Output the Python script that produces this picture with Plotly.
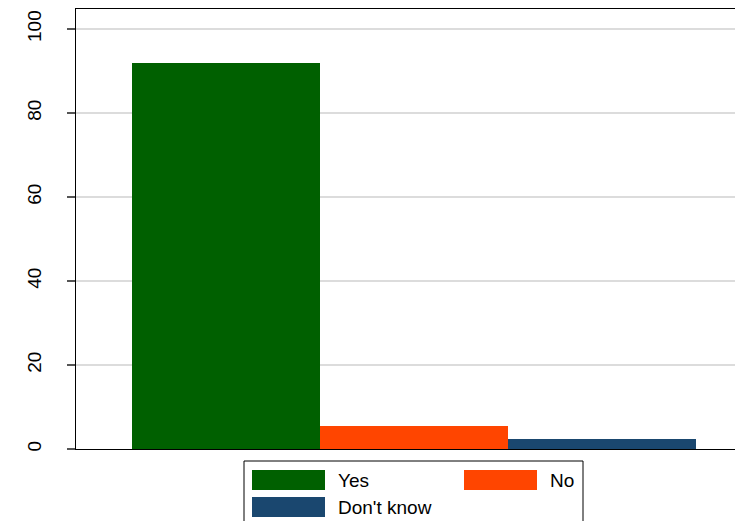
import plotly.graph_objects as go

# ---- data ----
categories = ["Yes", "No", "Don't know"]
values = [92.0, 5.5, 2.5]
colors = ["#006000", "#ff4500", "#1a476f"]
y_ticks = [0, 20, 40, 60, 80, 100]

# ---- layout geometry (page has an 8px body margin) ----
OFF = 8
W, H = 735, 513
ML, MR, MT, MB = 68, 0, 1, 72
PW, PH = W - ML - MR, H - MT - MB
FONT = "Liberation Sans, Arial, Helvetica, sans-serif"


def px(x):
    return (x - OFF - ML) / PW


def py(y):
    return (H - MB - (y - OFF)) / PH


fig = go.Figure()
for i, (cat, val, col) in enumerate(zip(categories, values, colors)):
    fig.add_trace(go.Bar(
        x=[i], y=[val], width=1, name=cat,
        marker=dict(color=col, line=dict(width=0)),
        showlegend=False,
    ))

# ---- custom Stata-style legend ----
shapes = [dict(type="rect", xref="paper", yref="paper",
               x0=px(244), x1=px(583), y0=py(461), y1=py(540),
               line=dict(color="black", width=1), fillcolor="white", layer="above")]
annotations = []
for i, (cat, col) in enumerate(zip(categories, colors)):
    c, r = i % 2, i // 2
    sx = 252 + c * 212
    sy = 470 + r * 27
    shapes.append(dict(type="rect", xref="paper", yref="paper",
                       x0=px(sx), x1=px(sx + 73), y0=py(sy), y1=py(sy + 20),
                       line=dict(width=0), fillcolor=col, layer="above"))
    annotations.append(dict(xref="paper", yref="paper",
                            x=px(sx + 84), y=py(sy + 10.5),
                            xanchor="left", yanchor="middle",
                            text=cat, showarrow=False,
                            font=dict(family=FONT, size=19, color="black")))

fig.update_layout(
    width=W, height=H,
    margin=dict(l=ML, r=MR, t=MT, b=MB, pad=0),
    paper_bgcolor="white", plot_bgcolor="white",
    font=dict(family=FONT, size=19, color="black"),
    bargap=0,
    shapes=shapes,
    annotations=annotations,
    xaxis=dict(range=[-0.798, 2.75], showticklabels=False, ticks="",
               showgrid=False, zeroline=False,
               showline=True, mirror=True, linecolor="black", linewidth=1.3),
    yaxis=dict(range=[0, 104.76], tickvals=y_ticks, tickangle=-90,
               ticks="outside", ticklen=8, tickwidth=1.5, tickcolor="#555555",
               ticklabelstandoff=18,
               showgrid=True, gridcolor="#dcdcdc", gridwidth=1.5,
               zeroline=False, showline=True, linecolor="black", linewidth=1.3,
               tickfont=dict(family=FONT, size=19, color="black")),
)

fig.write_html("out.html")
